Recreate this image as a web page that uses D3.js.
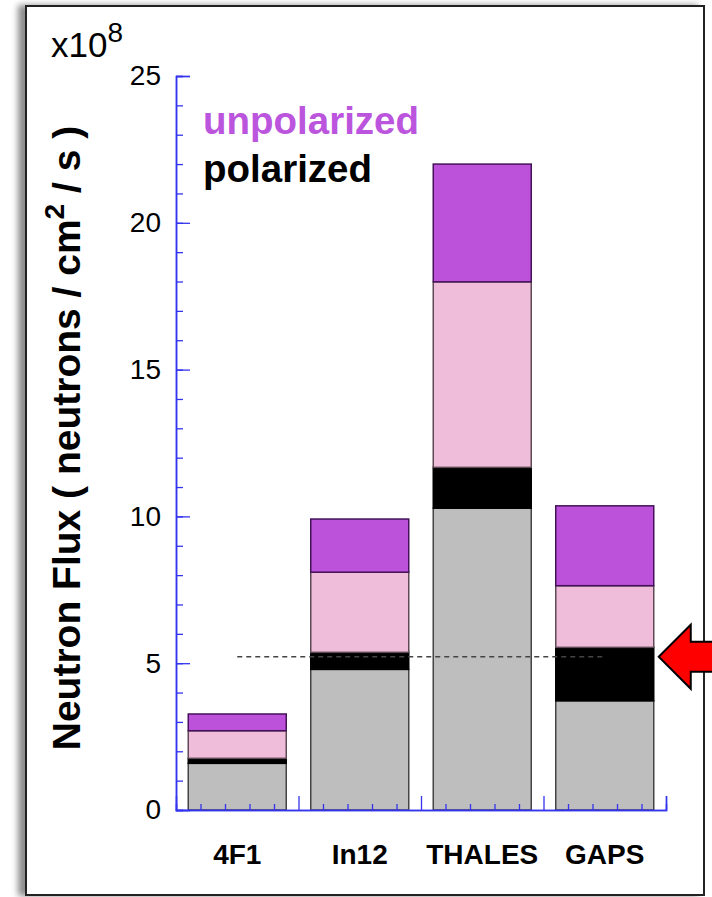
<!DOCTYPE html>
<html lang="en">
<head>
<meta charset="utf-8">
<title>Neutron flux</title>
<script src="https://d3js.org/d3.v7.min.js"></script>
<style>
  body { margin: 0; background: #fff; }
  text { font-family: "Liberation Sans", Arial, sans-serif; }
</style>
</head>
<body>
<script>
// data (x10^8 neutrons / cm2 / s), segments stacked bottom to top
var categories = ["4F1", "In12", "THALES", "GAPS"];
var grayPart   = [1.59, 4.79, 10.28, 3.72];
var blackPart  = [0.17, 0.58, 1.39, 1.82];
var pinkPart   = [0.94, 2.73, 6.32, 2.10];
var purplePart = [0.57, 1.81, 4.01, 2.72];
var yMajorTicks = [0, 5, 10, 15, 20, 25];
var refValue = 5.22;

var w = 712, h = 897;
var svg = d3.select("body").append("svg").attr("width", w).attr("height", h);

// frame with shadow on the left
var defs = svg.append("defs");
var f = defs.append("filter").attr("id", "shadow").attr("x", "-10%").attr("y", "-5%").attr("width", "120%").attr("height", "110%");
f.append("feDropShadow").attr("dx", -7).attr("dy", 0).attr("stdDeviation", 3)
  .attr("flood-color", "#000").attr("flood-opacity", 0.45);
svg.append("rect").attr("x", 26).attr("y", 6).attr("width", 678).attr("height", 889)
  .attr("fill", "#fff").attr("stroke", "#222").attr("stroke-width", 2).attr("filter", "url(#shadow)");

// scales
var x = d3.scaleBand().domain(categories).range([176, 666]).paddingInner(0.2).paddingOuter(0.1);
var xPos = d3.scaleLinear().domain([0, categories.length]).range([176, 666]);
var y = d3.scaleLinear().domain([0, 25]).range([810, 76]);
var blue = "#3434ee";

// stacked bars
var rows = categories.map(function(c, i) {
  return {cat: c, gray: grayPart[i], black: blackPart[i], pink: pinkPart[i], purple: purplePart[i]};
});
var keys = ["gray", "black", "pink", "purple"];
var fills = {gray: "#bebebe", black: "#000000", pink: "#efbdd9", purple: "#bb52d9"};
var strokes = {gray: "#444", black: "#000", pink: "#5e4a56", purple: "#45125a"};
var series = d3.stack().keys(keys)(rows);

svg.append("g").selectAll("g").data(series).join("g")
  .attr("fill", function(d) { return fills[d.key]; })
  .attr("stroke", function(d) { return strokes[d.key]; })
  .attr("stroke-width", 1.5)
  .selectAll("rect").data(function(d) { return d; }).join("rect")
  .attr("x", function(d) { return x(d.data.cat); })
  .attr("width", x.bandwidth())
  .attr("y", function(d) { return y(d[1]); })
  .attr("height", function(d) { return y(d[0]) - y(d[1]); });

// reference line
svg.append("line")
  .attr("x1", x("4F1") + x.bandwidth() / 2).attr("x2", x("GAPS") + x.bandwidth() / 2)
  .attr("y1", y(refValue)).attr("y2", y(refValue))
  .attr("stroke", "#444").attr("stroke-width", 1.5).attr("stroke-dasharray", "5,4");

// y axis: minor and major ticks
var yMinor = d3.axisLeft(y).tickValues(d3.range(0, 26)).tickSize(-7).tickFormat("");
var yMajor = d3.axisLeft(y).tickValues(yMajorTicks).tickSize(-14).tickPadding(15);
var gyMinor = svg.append("g").attr("transform", "translate(176,0)").call(yMinor);
var gy = svg.append("g").attr("transform", "translate(176,0)").call(yMajor);
[gyMinor, gy].forEach(function(g) {
  g.selectAll("line").attr("stroke", blue).attr("stroke-width", 1.3);
  g.select(".domain").attr("stroke", blue).attr("stroke-width", 1.5);
});
gy.selectAll("text").attr("fill", "#000").style("font-size", "28px")
  .style("font-family", "'Liberation Sans', Arial, sans-serif");

// x axis: minor ticks inside each band, taller ticks between bands
var minorX = d3.range(0, categories.length * 5).filter(function(v) { return v % 5 != 0; }).map(function(v) { return v / 5; });
var xMinor = d3.axisBottom(xPos).tickValues(minorX).tickSize(-6).tickFormat("");
var xMajor = d3.axisBottom(xPos).tickValues(d3.range(1, categories.length + 1)).tickSize(-14).tickFormat("");
var gxMinor = svg.append("g").attr("transform", "translate(0,810)").call(xMinor);
var gxMajor = svg.append("g").attr("transform", "translate(0,810)").call(xMajor);
[gxMinor, gxMajor].forEach(function(g) {
  g.selectAll("line").attr("stroke", blue).attr("stroke-width", 1.3);
  g.select(".domain").attr("stroke", blue).attr("stroke-width", 1.5);
});

// category labels
var gxLab = svg.append("g").attr("transform", "translate(0,810)")
  .call(d3.axisBottom(x).tickSize(0).tickPadding(34));
gxLab.select(".domain").remove();
gxLab.selectAll("text").attr("fill", "#000").style("font-size", "28px").style("font-weight", "bold")
  .style("font-family", "'Liberation Sans', Arial, sans-serif");

// y label
var yl = svg.append("text")
  .attr("transform", "translate(80,438) rotate(-90)")
  .attr("text-anchor", "middle")
  .style("font-size", "39px").style("font-weight", "bold");
yl.append("tspan").text("Neutron Flux ( neutrons / cm");
yl.append("tspan").attr("dy", -16).style("font-size", "28px").text("2");
yl.append("tspan").attr("dy", 16).text(" / s )");

// multiplier
var mult = svg.append("text").attr("x", 51).attr("y", 57).style("font-size", "35px");
mult.append("tspan").text("x10");
mult.append("tspan").attr("dy", -15).style("font-size", "28px").text("8");

// legend
svg.append("text").attr("x", 203).attr("y", 134).attr("fill", "#bb55dd")
  .style("font-size", "38.5px").style("font-weight", "bold").text("unpolarized");
svg.append("text").attr("x", 203).attr("y", 182).attr("fill", "#000")
  .style("font-size", "38.5px").style("font-weight", "bold").text("polarized");

// arrow pointing at the GAPS bar
var tipX = x("GAPS") + x.bandwidth() + 5, tipY = y(refValue);
var arrow = [[tipX, tipY], [tipX + 32, tipY - 32], [tipX + 32, tipY - 15], [tipX + 70, tipY - 15],
             [tipX + 70, tipY + 15], [tipX + 32, tipY + 15], [tipX + 32, tipY + 32]];
svg.append("path").attr("d", d3.line()(arrow) + "Z")
  .attr("fill", "#ff0000").attr("stroke", "#000").attr("stroke-width", 2).attr("stroke-linejoin", "miter");
</script>
</body>
</html>
